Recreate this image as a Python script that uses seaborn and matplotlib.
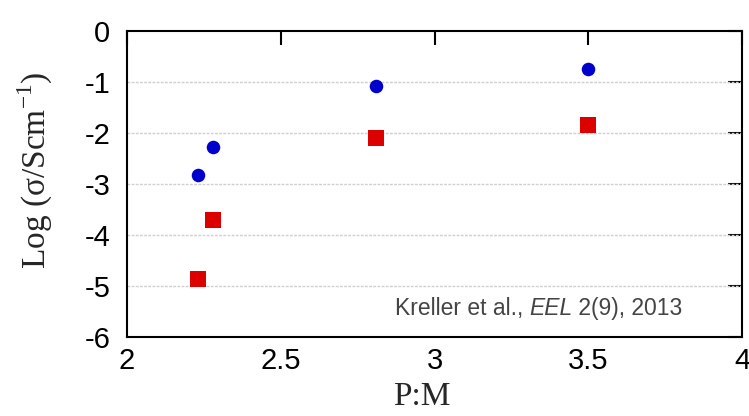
import pandas as pd
import seaborn as sns
import matplotlib.pyplot as plt

pm_ratio = [2.23, 2.28, 2.81, 3.50]
log_sigma_blue = [-2.82, -2.27, -1.08, -0.75]
log_sigma_red = [-4.87, -3.71, -2.10, -1.84]

df = pd.DataFrame({
    'pm': pm_ratio + pm_ratio,
    'logsig': log_sigma_blue + log_sigma_red,
    'series': ['blue'] * 4 + ['red'] * 4,
})

sns.set_style('white')
plt.rcParams['font.family'] = ['Liberation Sans', 'DejaVu Sans']
plt.rcParams['axes.unicode_minus'] = False

fig, ax = plt.subplots(figsize=(7.49, 4.16), dpi=100)
fig.subplots_adjust(left=127/749, right=742/749, top=1-31/416, bottom=1-337/416)

for ser, mk, col, sz in [('blue', 'o', '#0000CC', 95), ('red', 's', '#DD0000', 120)]:
    sns.scatterplot(data=df[df['series'] == ser], x='pm', y='logsig', ax=ax,
                    marker=mk, color=col, s=sz, linewidth=0, zorder=3)

ax.set_xlim(2, 4)
ax.set_ylim(-6, 0)
ax.set_xticks([2, 2.5, 3, 3.5, 4])
ax.set_xticklabels(['2', '2.5', '3', '3.5', '4'])
ax.set_yticks(range(-6, 1))
ax.set_yticklabels([str(v) for v in range(-6, 1)])
for y in range(-5, 0):
    ax.axhline(y, color='#cfcfcf', lw=1, ls=(0, (2, 1)), zorder=1)

ax.tick_params(direction='in', length=10, width=1.5, labelsize=21, colors='black',
               top=True, right=True)
ax.tick_params(axis='y', pad=12)
ax.tick_params(axis='x', pad=7)
for sp in ax.spines.values():
    sp.set_color('black')
    sp.set_linewidth(1.5)

ax.set_xlabel('P:M', family=['Liberation Serif'], fontsize=24, va='baseline')
ax.set_ylabel(r'Log ($\mathregular{\sigma}$/Scm$^{\mathregular{-1}}$)',
              family=['Liberation Serif'], fontsize=24)
ax.xaxis.set_label_coords(0.479, -0.222)
ax.yaxis.set_label_coords(-0.117, 0.546)

# citation, with the journal name in italics
t1 = ax.text(2.87, -5.57, 'Kreller et al., ', fontsize=16.5, color='#444444')
fig.canvas.draw()
bb = t1.get_window_extent()
x1 = ax.transData.inverted().transform((bb.x1, bb.y0))[0]
t2 = ax.text(x1, -5.57, 'EEL', fontsize=16.5, color='#444444', style='italic')
fig.canvas.draw()
bb2 = t2.get_window_extent()
x2 = ax.transData.inverted().transform((bb2.x1, bb2.y0))[0]
ax.text(x2, -5.57, ' 2(9), 2013', fontsize=16.5, color='#444444')

plt.savefig('out.png', dpi=100)
